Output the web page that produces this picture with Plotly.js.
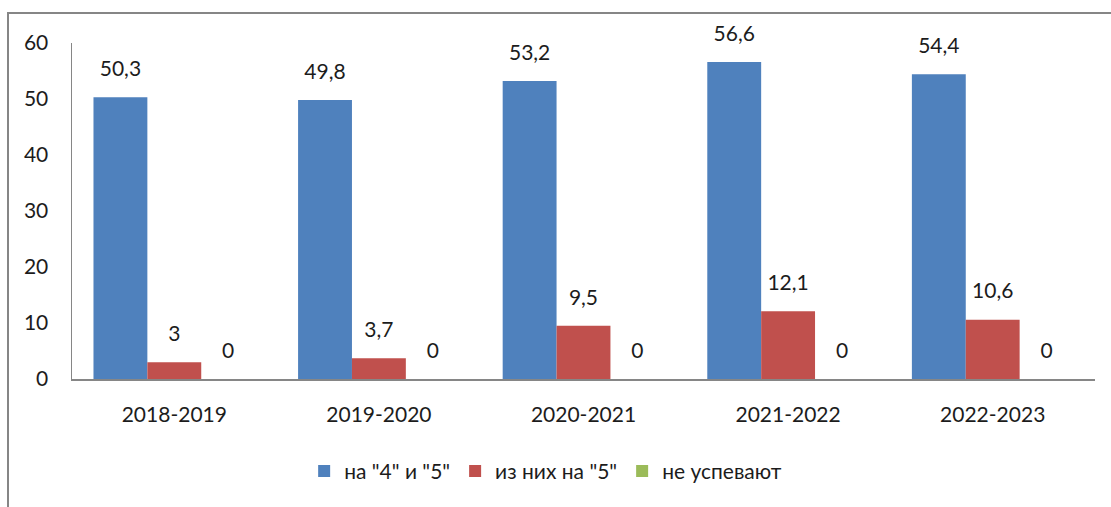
<!DOCTYPE html>
<html>
<head>
<meta charset="utf-8">
<script src="https://cdn.plot.ly/plotly-3.0.1.min.js"></script>
<style>
  body { margin: 0; background: #fff; }
  #wrap { position: relative; width: 1111px; height: 507px; overflow: hidden; }
  #frame { position: absolute; left: 7px; top: 12px; width: 1200px; height: 600px;
           border-left: 2px solid #868686; border-top: 2px solid #868686; pointer-events: none; }
  #chart { position: absolute; left: 0; top: 0; width: 1111px; height: 507px; }
</style>
</head>
<body>
<div id="wrap">
  <div id="chart"></div>
  <div id="frame"></div>
</div>
<script>
const YEARS = ['2018-2019', '2019-2020', '2020-2021', '2021-2022', '2022-2023'];
const GOOD = [50.3, 49.8, 53.2, 56.6, 54.4];
const EXCELLENT = [3, 3.7, 9.5, 12.1, 10.6];
const FAILING = [0, 0, 0, 0, 0];
const NAMES = ['на "4" и "5"', 'из них на "5"', 'не успевают'];
const COLORS = ['#4F81BD', '#C0504D', '#9BBB59'];

const FONT = 'Lato, "Open Sans", sans-serif';
const TXT = '#1c1c1c';
const fmt = v => String(v).replace('.', ',');
const SERIES = [GOOD, EXCELLENT, FAILING];

const bars = SERIES.map((vals, i) => ({
  type: 'bar',
  name: NAMES[i],
  x: YEARS,
  y: vals,
  offsetgroup: 'g' + i,
  marker: { color: COLORS[i] },
  hoverinfo: 'x+y',
}));

// value labels: invisible markers push the text up above each bar
const labels = SERIES.map((vals, i) => ({
  type: 'scatter',
  mode: 'markers+text',
  x: YEARS,
  y: vals,
  offsetgroup: 'g' + i,
  showlegend: false,
  marker: { size: 24, color: 'rgba(0,0,0,0)' },
  text: vals.map(fmt),
  textposition: 'top center',
  textfont: { family: FONT, size: 21, color: TXT },
  cliponaxis: false,
  hoverinfo: 'skip',
}));

const layout = {
  width: 1111,
  height: 507,
  margin: { l: 72, r: 16, t: 43, b: 128 },
  paper_bgcolor: '#fff',
  plot_bgcolor: '#fff',
  font: { family: FONT, size: 21, color: TXT },
  barmode: 'group',
  scattermode: 'group',
  bargap: 0.21,
  bargroupgap: 0,
  showlegend: true,
  legend: {
    orientation: 'h', x: 0.463, xanchor: 'center', y: -0.275, yanchor: 'middle',
    font: { family: FONT, size: 21, color: TXT },
    traceorder: 'normal',
  },
  xaxis: {
    showline: true, linecolor: '#868686', linewidth: 1.5,
    ticks: '', showgrid: false, tickfont: { size: 21 }, ticklabelstandoff: 16,
  },
  yaxis: {
    range: [0, 60], dtick: 10, showline: true, linecolor: '#868686', linewidth: 1.5,
    ticks: '', showgrid: false, zeroline: false, tickfont: { size: 21 }, ticklabelstandoff: 18,
  },
};

Plotly.newPlot('chart', bars.concat(labels), layout, { displayModeBar: false, staticPlot: true });
</script>
</body>
</html>
